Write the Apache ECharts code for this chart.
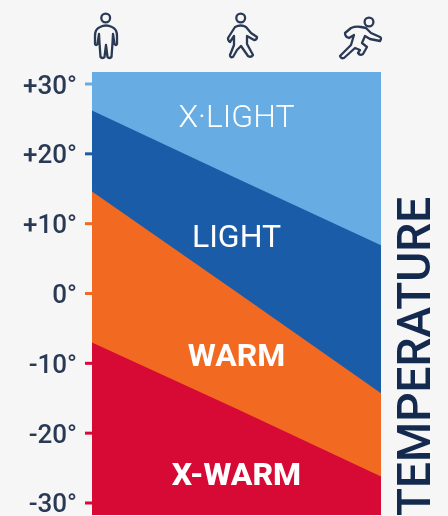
<!DOCTYPE html>
<html><head><meta charset="utf-8">
<style>html,body{margin:0;padding:0;background:#f6f6f6;overflow:hidden}#c{width:448px;height:516px;filter:blur(0.5px)}</style>
<script src="https://cdn.jsdelivr.net/npm/echarts@6/dist/echarts.min.js"></script>
</head><body><div id="c"></div>
<script>
const activities = ['Standing', 'Walking', 'Running'];
const tickValues = [30, 20, 10, 0, -10, -20, -30];
const axisTop = 31.72;
const axisBottom = -31.72;
const xLightBand = [axisTop, axisTop, axisTop];
const lightBand = [26.2, 16.5, 6.9];
const warmBand = [14.6, 0.2, -14.3];
const xWarmBand = [-7.0, -16.5, -26.2];
const bandNames = ['X·LIGHT', 'LIGHT', 'WARM', 'X-WARM'];
const bandLabelTemps = [25.0, 7.8, -9.2, -26.3];
const bandColors = ['#67ade4', '#1b5ca8', '#f26a21', '#d70a35'];
const bandWeights = [300, 400, 700, 800];
const bands = [xLightBand, lightBand, warmBand, xWarmBand];
const ink = '#2a3a55';

function tickColor(v) {
  for (let i = 3; i >= 1; i--) if (v < bands[i][0]) return bandColors[i];
  return bandColors[0];
}
function fmt(v) { return v > 0 ? '+' + v + '°' : v < 0 ? '-' + Math.abs(v) + '°' : '0°'; }

const areaSeries = bands.map((d, i) => ({
  type: 'line', data: d, symbol: 'none', silent: true,
  lineStyle: { width: 0 },
  areaStyle: { color: bandColors[i], opacity: 1, origin: 'start' },
  z: 2 + i
}));

const labelSeries = bandNames.map((n, i) => ({
  type: 'scatter', symbolSize: 0, z: 10, silent: true, itemStyle: { opacity: 1 },
  data: [[activities[1], bandLabelTemps[i]]],
  label: { show: true, position: 'inside', formatter: n, color: '#fff', opacity: 1,
    fontFamily: 'Roboto', fontSize: 32, fontWeight: bandWeights[i] }
}));

const tickSeries = {
  type: 'scatter', symbol: 'rect', symbolSize: [7, 3], symbolOffset: [-3.5, 0], clip: false, z: 1, silent: true,
  itemStyle: { opacity: 1 },
  label: { show: true, position: 'left', distance: 8, offset: [0, 3], formatter: p => fmt(p.value[1]), color: ink, opacity: 1,
    fontFamily: 'Roboto', fontSize: 26, fontWeight: 500 },
  data: tickValues.map(v => ({ value: [activities[0], v], itemStyle: { color: tickColor(v), opacity: 1 } }))
};

const iconStyle = { fill: 'none', stroke: ink, lineWidth: 2.3, lineJoin: 'round' };
const head = (x, y) => ({ type: 'circle', shape: { cx: x, cy: y, r: 4.4 }, style: iconStyle });

echarts.graphic.registerShape('iconStand', echarts.graphic.extendPath('M100 27 Q106 24 112 27 Q117 29 117 36 L117 44 Q116 46 114.5 44 L113 34 L112.5 43 L111.5 57 Q109 59 107.5 57 L106 45 L104.5 57 Q103 59 100.5 57 L99.5 43 L99 34 L97.5 44 Q96 46 95 44 L95 36 Q95 29 100 27 Z', {}));
echarts.graphic.registerShape('iconWalk', echarts.graphic.extendPath('M235 27 Q241 24 246 27 L251 33 L257 37 Q257 40 254 40 L247 36 L247 44 L253 55 Q251 58 248 56 L241 46 L237 50 L233 57 Q230 58 230 55 L234 45 L234 36 L230 42 Q228 41 228 38 Z', {}));
echarts.graphic.registerShape('iconRun', echarts.graphic.extendPath('M361 27 Q356 26 351 28 L345 33 Q345 37 349 38 L354 35 L351 45 L340 56 Q341 59 344 58 L355 48 L360 50 L358 53 Q360 56 363 54 L367 47 L362 43 L365 36 L370 39 L380 41 Q382 38 380 37 L371 33 L366 28 Z', {}));

const chart = echarts.init(document.getElementById('c'), null, { renderer: 'canvas' });
chart.setOption({
  animation: false,
  backgroundColor: '#f6f6f6',
  grid: { left: 92, right: 67, top: 72, bottom: 1 },
  xAxis: { type: 'category', data: activities, boundaryGap: false, show: false },
  yAxis: {
    type: 'value', min: axisBottom, max: axisTop,
    splitLine: { show: false }, axisLine: { show: false }, axisTick: { show: false },
    axisLabel: { show: false }
  },
  series: [...areaSeries, tickSeries, ...labelSeries],
  graphic: [
    { type: 'text', x: 418.5, y: 516, rotation: Math.PI / 2,
      style: { text: 'TEMPERATURE', fill: '#14294e', font: '500 46px Roboto', textAlign: 'left', textVerticalAlign: 'middle' } },
    head(105.7, 18), head(240.7, 18), head(369, 22),
    { type: 'iconStand', shape: {}, style: iconStyle },
    { type: 'iconWalk', shape: {}, style: iconStyle },
    { type: 'iconRun', shape: {}, style: iconStyle }
  ]
});
</script></body></html>
